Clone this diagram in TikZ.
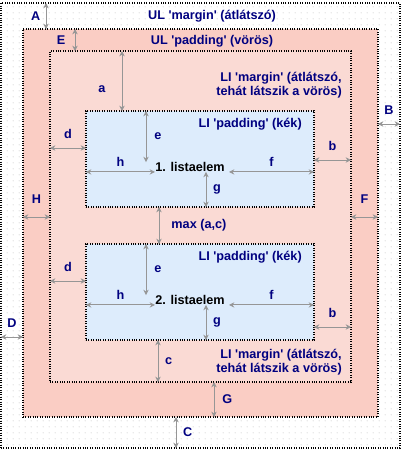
\documentclass[tikz,border=0pt]{standalone}
\usepackage{xcolor}
\usepackage{fontspec}
\setmainfont{Liberation Sans}
\usepackage{tikz}
\usetikzlibrary{arrows.meta, patterns, positioning}
\definecolor{lblue}{RGB}{0,0,128}
\definecolor{ulpink}{RGB}{250,205,196}
\definecolor{lipink}{RGB}{250,218,212}
\definecolor{liblue}{RGB}{221,236,252}
\definecolor{dimgray}{RGB}{150,150,150}
\definecolor{dotgray}{RGB}{165,165,165}
\newcommand{\sq}{\textquotesingle}
\pgfdeclarepatternformonly{sparsedots}{\pgfpointorigin}{\pgfpoint{4.5pt}{4.5pt}}%
  {\pgfpoint{4.5pt}{4.5pt}}{\pgfpathcircle{\pgfpoint{1pt}{1pt}}{0.4pt}\pgfusepath{fill}}
\tikzset{
  box/.style={rectangle, draw=black, densely dotted, line width=0.8pt,
    inner sep=0pt, outer sep=0pt},
  dim/.style={<->, >={Stealth[length=4pt,width=4pt]},
    draw=dimgray, line width=0.7pt},
  lbl/.style={font=\fontsize{9.5}{11}\selectfont\bfseries, text=lblue,
    inner sep=0pt, align=right},
  item/.style={font=\fontsize{9.5}{11}\selectfont\bfseries, text=black, inner sep=0pt}
}

\begin{document}
\begin{tikzpicture}[x=0.75pt, y=-0.75pt]
  \useasboundingbox (0,0) rectangle (402,451);
  % Boxes
  \node[box, fill=white, minimum width=299.25pt, minimum height=333.75pt] (ulm) at (200.5,225.5) {};
  \fill[pattern=sparsedots, pattern color=dotgray] (ulm.south west) rectangle (ulm.north east);
  \node[box, fill=ulpink, minimum width=266.25pt, minimum height=291pt] (ul) at (200.5,223) {};
  \node[box, fill=lipink, minimum width=225.75pt, minimum height=248.25pt] (lim) at (200.5,216.5) {};
  \node[box, fill=liblue, minimum width=171pt, minimum height=72pt] (li1) at (200,159) {};
  \node[box, fill=liblue, minimum width=171pt, minimum height=72pt] (li2) at (200,292) {};
  % Labels
  \node[lbl] (ulmtxt) at (212,16) {UL \sq margin\sq\ (átlátszó)};
  \node[lbl] (ultxt) at (212,41) {UL \sq padding\sq\ (vörös)};
  \node[lbl, anchor=east] (limtxt1) at (342,85) {LI \sq margin\sq\ (átlátszó,\\tehát látszik a vörös)};
  \node[lbl, anchor=east] (limtxt2) at (342,362) {LI \sq margin\sq\ (átlátszó,\\tehát látszik a vörös)};
  \node[lbl, anchor=east] (li1txt) at (302,124) {LI \sq padding\sq\ (kék)};
  \node[lbl, anchor=east] (li2txt) at (302,257) {LI \sq padding\sq\ (kék)};
  \node[item] (item1) at (190,167) {1. listaelem};
  \node[item] (item2) at (190,300) {2. listaelem};
  % Helper coordinates
  \coordinate (xA) at (46,0);
  \coordinate (xE) at (75,0);
  \coordinate (xa) at (122,0);
  \coordinate (xe) at (146,0);
  \coordinate (xg) at (206,0);
  \coordinate (xmax) at (159,0);
  \coordinate (xc) at (158,0);
  \coordinate (xG) at (214,0);
  \coordinate (xC) at (176,0);
  \coordinate (yB) at (0,124);
  \coordinate (yHF) at (0,217);
  \coordinate (yD) at (0,337);
  \coordinate (yd1) at (0,148);
  \coordinate (yd2) at (0,281);
  \coordinate (yb1) at (0,160);
  \coordinate (yb2) at (0,327);
  % Outer arrows
  \draw[dim] (xA |- ulm.north) -- (xA |- ul.north) node[midway, left=4pt, lbl] {A};
  \draw[dim] (ul.east |- yB) -- (ulm.east |- yB) node[midway, above=7pt, lbl] {B};
  \draw[dim] (xC |- ul.south) -- (xC |- ulm.south) node[midway, right=5pt, lbl] {C};
  \draw[dim] (ulm.west |- yD) -- (ul.west |- yD) node[midway, above=7pt, lbl] {D};
  \draw[dim] (xE |- ul.north) -- (xE |- lim.north) node[midway, left=7pt, lbl] {E};
  \draw[dim] (lim.east |- yHF) -- (ul.east |- yHF) node[midway, above=10pt, lbl] {F};
  \draw[dim] (xG |- lim.south) -- (xG |- ul.south) node[midway, right=6pt, lbl] {G};
  \draw[dim] (ul.west |- yHF) -- (lim.west |- yHF) node[midway, above=10pt, lbl] {H};
  % Margins of the items
  \draw[dim] (xa |- lim.north) -- (xa |- li1.north) node[pos=0.63, left=12pt, lbl] {a};
  \draw[dim] (li1.east |- yb1) -- (lim.east |- yb1) node[midway, above=7pt, lbl] {b};
  \draw[dim] (li2.east |- yb2) -- (lim.east |- yb2) node[midway, above=7pt, lbl] {b};
  \draw[dim] (xc |- li2.south) -- (xc |- lim.south) node[midway, right=5pt, lbl] {c};
  \draw[dim] (lim.west |- yd1) -- (li1.west |- yd1) node[midway, above=7pt, lbl] {d};
  \draw[dim] (lim.west |- yd2) -- (li2.west |- yd2) node[midway, above=7pt, lbl] {d};
  \draw[dim] (xmax |- li1.south) -- (xmax |- li2.north) node[midway, right=9pt, lbl] {max (a,c)};
  % Paddings of the items
  \draw[dim] (xe |- li1.north) -- (xe |- item1.north west) node[midway, right=6pt, lbl] {e};
  \draw[dim] (xe |- li2.north) -- (xe |- item2.north west) node[midway, right=6pt, lbl] {e};
  \draw[dim] (li1.west |- item1.south) -- (item1.south west) node[midway, above=4pt, lbl] {h};
  \draw[dim] (li2.west |- item2.south) -- (item2.south west) node[midway, above=4pt, lbl] {h};
  \draw[dim] ([xshift=3pt]item1.south east) -- (li1.east |- item1.south) node[midway, above=4pt, lbl] {f};
  \draw[dim] ([xshift=3pt]item2.south east) -- (li2.east |- item2.south) node[midway, above=4pt, lbl] {f};
  \draw[dim] (xg |- item1.south) -- (xg |- li1.south) node[midway, right=5pt, lbl] {g};
  \draw[dim] (xg |- item2.south) -- (xg |- li2.south) node[midway, right=5pt, lbl] {g};
\end{tikzpicture}
\end{document}
